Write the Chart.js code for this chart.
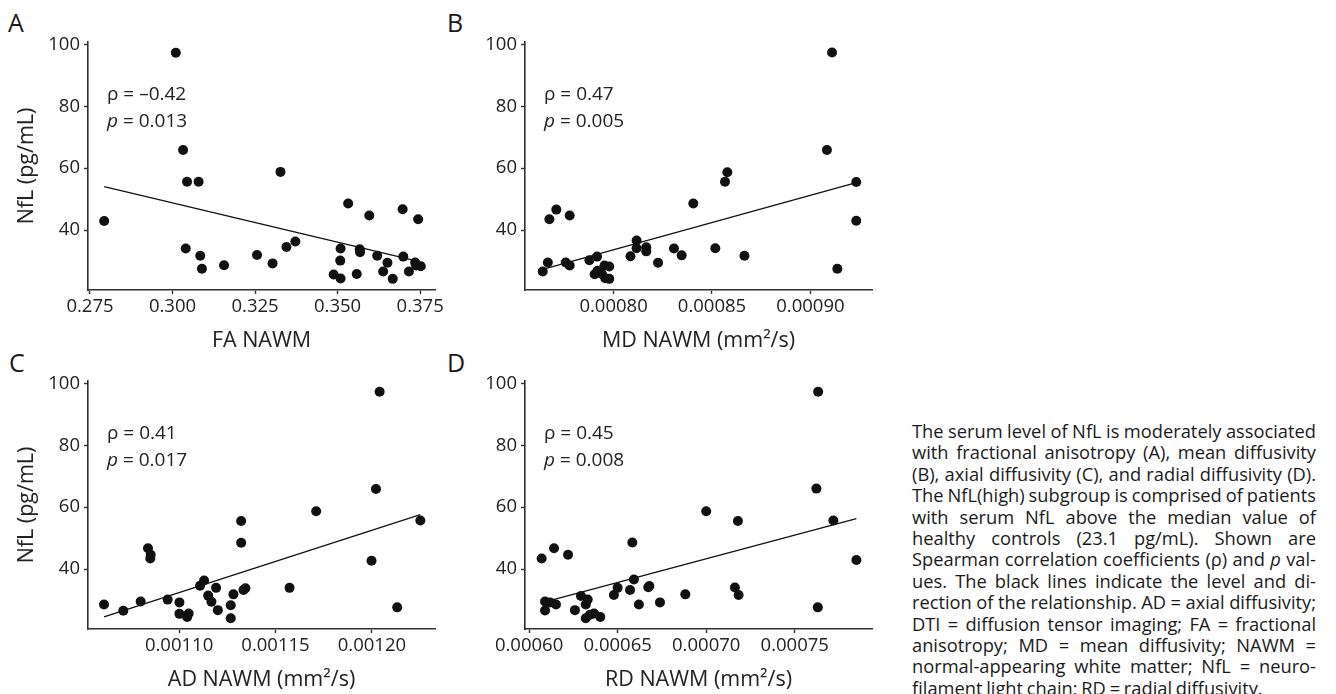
<!DOCTYPE html>
<html>
<head>
<meta charset="utf-8">
<script src="https://cdn.jsdelivr.net/npm/chart.js@4.4.1/dist/chart.umd.min.js"></script>
<style>
  html, body { margin: 0; padding: 0; background: #fff; width: 1336px; height: 694px; overflow: hidden; }
  body { position: relative; font-family: "Open Sans", sans-serif; color: #222; }
  canvas { position: absolute; }
  .letter { position: absolute; font-size: 25px; line-height: 25px; color: #1a1a1a; }
  #caption { position: absolute; left: 912px; top: 420px; width: 404px; font-size: 18.3px; line-height: 21.4px; word-spacing: -1px; color: #1a1a1a; }
  #caption div { text-align: justify; text-align-last: justify; white-space: nowrap; }
  #caption div.last { text-align-last: left; }
</style>
</head>
<body>
<div class="letter" style="left:8px;top:10px">A</div>
<div class="letter" style="left:447px;top:10px">B</div>
<div class="letter" style="left:9px;top:350px">C</div>
<div class="letter" style="left:447px;top:350px">D</div>

<canvas id="cA" width="450" height="356" style="left:0px;top:0px"></canvas>
<canvas id="cB" width="450" height="356" style="left:437px;top:0px"></canvas>
<canvas id="cC" width="450" height="356" style="left:0px;top:339px"></canvas>
<canvas id="cD" width="450" height="356" style="left:437px;top:339px"></canvas>

<div id="caption">
<div>The serum level of NfL is moderately associated</div>
<div>with fractional anisotropy (A), mean diffusivity</div>
<div>(B), axial diffusivity (C), and radial diffusivity (D).</div>
<div>The NfL(high) subgroup is comprised of patients</div>
<div>with serum NfL above the median value of</div>
<div>healthy controls (23.1 pg/mL). Shown are</div>
<div>Spearman correlation coefficients (ρ) and <i>p</i> val-</div>
<div>ues. The black lines indicate the level and di-</div>
<div>rection of the relationship. AD = axial diffusivity;</div>
<div>DTI = diffusion tensor imaging; FA = fractional</div>
<div>anisotropy; MD = mean diffusivity; NAWM =</div>
<div>normal-appearing white matter; NfL = neuro-</div>
<div class="last">filament light chain; RD = radial diffusivity.</div>
</div>

<script>
// ---------------- DATA ----------------
const nflTicks = [40, 60, 80, 100];

const faNawm = [0.2793,0.3010,0.3032,0.3044,0.3079,0.3040,0.3084,0.3089,0.3156,0.3256,0.3303,0.3327,0.3345,0.3372,0.3488,0.3509,0.3508,0.3509,0.3532,0.3558,0.3567,0.3568,0.3596,0.3620,0.3638,0.3651,0.3667,0.3697,0.3699,0.3716,0.3735,0.3744,0.3738,0.3752];
const nflA   = [42.9,97.3,65.9,55.6,55.6,34.0,31.7,27.5,28.6,31.9,29.2,58.8,34.5,36.3,25.6,24.3,30.1,34.0,48.6,25.8,33.8,32.8,44.7,31.7,26.6,29.4,24.2,46.7,31.4,26.6,29.5,43.5,28.5,28.3];
const fitA   = [[0.2793, 54.0], [0.3735, 30.1]];
const ticksA = [0.275, 0.300, 0.325, 0.350, 0.375];

const mdNawm = [0.0007640,0.0007666,0.0007674,0.0007709,0.0007757,0.0007777,0.0007777,0.0007877,0.0007916,0.0007904,0.0007919,0.0007941,0.0007954,0.0007978,0.0007958,0.0007978,0.0008086,0.0008117,0.0008117,0.0008166,0.0008166,0.0008226,0.0008307,0.0008346,0.0008405,0.0008517,0.0008566,0.0008578,0.0008665,0.0009084,0.0009110,0.0009137,0.0009233,0.0009233];
const nflB   = [26.6,29.5,43.5,46.6,29.5,28.5,44.7,30.2,31.4,25.7,26.8,25.8,28.5,28.2,24.4,24.2,31.5,36.6,34.1,34.4,33.1,29.4,34.0,31.8,48.6,34.1,55.6,58.7,31.7,65.9,97.4,27.5,55.5,43.0];
const fitB   = [[0.0007640, 27.3], [0.0009233, 55.3]];
const ticksB = [0.00080, 0.00085, 0.00090];

const adNawm = [0.0010611,0.0010711,0.0010801,0.0010839,0.0010853,0.0010851,0.0010941,0.0011002,0.0011002,0.0011042,0.0011050,0.0011109,0.0011130,0.0011151,0.0011168,0.0011192,0.0011201,0.0011268,0.0011268,0.0011282,0.0011322,0.0011322,0.0011334,0.0011344,0.0011573,0.0011711,0.0011998,0.0012021,0.0012040,0.0012131,0.0012251];
const nflC   = [28.5,26.5,29.5,46.7,44.6,43.4,30.1,29.2,25.5,24.5,25.6,34.6,36.3,31.4,29.4,33.9,26.7,28.3,24.1,31.8,55.5,48.5,33.2,33.8,33.9,58.7,42.7,65.9,97.3,27.6,55.7];
const fitC   = [[0.0010611, 24.5], [0.0012251, 57.6]];
const ticksC = [0.00110, 0.00115, 0.00120];

const rdNawm = [0.0006071,0.0006090,0.0006090,0.0006118,0.0006141,0.0006152,0.0006220,0.0006259,0.0006293,0.0006320,0.0006331,0.0006320,0.0006344,0.0006367,0.0006402,0.0006479,0.0006500,0.0006570,0.0006583,0.0006592,0.0006620,0.0006673,0.0006679,0.0006739,0.0006882,0.0007000,0.0007162,0.0007179,0.0007183,0.0007622,0.0007632,0.0007630,0.0007718,0.0007848];
const nflD   = [43.4,26.6,29.5,29.2,46.7,28.5,44.6,26.7,31.3,28.5,30.1,24.1,25.2,25.6,24.5,31.6,33.9,33.2,48.6,36.6,28.5,34.1,34.5,29.2,31.8,58.7,34.0,55.5,31.6,66.0,97.3,27.6,55.7,42.9];
const fitD   = [[0.0006090, 29.4], [0.0007848, 56.3]];
const ticksD = [0.00060, 0.00065, 0.00070, 0.00075];

const rhoLabels = ['ρ = –0.42', 'ρ = 0.47', 'ρ = 0.41', 'ρ = 0.45'];
const pLabels   = ['0.013', '0.005', '0.017', '0.008'];
const xTitles   = ['FA NAWM', 'MD NAWM (mm²/s)', 'AD NAWM (mm²/s)', 'RD NAWM (mm²/s)'];
const yTitle    = 'NfL (pg/mL)';

// ---------------- CHARTS ----------------
const AXIS = '#303030';
const TXT = '#222222';
const FONT = '"Open Sans", sans-serif';

const statsPlugin = {
  id: 'stats',
  afterDraw(chart, args, opts) {
    const ctx = chart.ctx;
    const x0 = chart.chartArea.left + 19;
    ctx.save();
    ctx.fillStyle = TXT;
    ctx.textBaseline = 'middle';
    ctx.textAlign = 'left';
    ctx.font = '19px ' + FONT;
    ctx.fillText(opts.rho, x0, 95);
    ctx.font = 'italic 19px ' + FONT;
    ctx.fillText('p', x0, 122);
    const w = ctx.measureText('p').width;
    ctx.font = '19px ' + FONT;
    ctx.fillText(' = ' + opts.p, x0 + w, 122);
    ctx.restore();
  }
};

function makeChart(id, xs, ys, fit, xTicks, xMin, xMax, decimals, idx, showY) {
  const pts = xs.map((x, i) => ({x: x, y: ys[i]}));
  new Chart(document.getElementById(id), {
    type: 'scatter',
    data: {
      datasets: [
        { data: pts, backgroundColor: '#111', borderColor: '#111', pointRadius: 5, pointHoverRadius: 5, borderWidth: 0, order: 1 },
        { type: 'line', data: fit.map(p => ({x: p[0], y: p[1]})), borderColor: '#111', borderWidth: 1.3, pointRadius: 0, fill: false, order: 2 }
      ]
    },
    options: {
      responsive: false,
      animation: false,
      devicePixelRatio: 1,
      layout: { padding: { left: 0, top: 42, right: 15, bottom: 0 } },
      plugins: { legend: { display: false }, tooltip: { enabled: false }, stats: { rho: rhoLabels[idx], p: pLabels[idx] } },
      scales: {
        x: {
          type: 'linear', min: xMin, max: xMax,
          afterBuildTicks: s => { s.ticks = xTicks.map(v => ({value: v})); },
          afterFit: s => { s.height = 66; s.paddingLeft = 0; s.paddingRight = 0; },
          ticks: { callback: v => v.toFixed(decimals), font: { family: FONT, size: 18.5 }, color: TXT, padding: 2, maxRotation: 0, autoSkip: false },
          grid: { display: true, drawOnChartArea: false, drawTicks: true, tickLength: 4, color: AXIS, tickWidth: 1.4 },
          border: { display: true, color: AXIS, width: 1.6 },
          title: { display: true, text: xTitles[idx], font: { family: FONT, size: 21.5 }, color: TXT, padding: { top: 0, bottom: 2 } }
        },
        y: {
          type: 'linear', min: 20.6, max: 100.8,
          afterBuildTicks: s => { s.ticks = nflTicks.map(v => ({value: v})); },
          afterFit: s => { s.width = 88; s.paddingTop = 0; s.paddingBottom = 0; },
          ticks: { font: { family: FONT, size: 18.5 }, color: TXT, padding: 4 },
          grid: { display: true, drawOnChartArea: false, drawTicks: true, tickLength: 4, color: AXIS, tickWidth: 1.4 },
          border: { display: true, color: AXIS, width: 1.6 },
          title: { display: showY, text: yTitle, font: { family: FONT, size: 21.5 }, color: TXT, padding: { top: 14, bottom: 0 } }
        }
      }
    },
    plugins: [statsPlugin]
  });
}

makeChart('cA', faNawm, nflA, fitA, ticksA, 0.2744, 0.3795, 3, 0, true);
makeChart('cB', mdNawm, nflB, fitB, ticksB, 0.000755, 0.0009313, 5, 1, false);
makeChart('cC', adNawm, nflC, fitC, ticksC, 0.0010528, 0.0012327, 5, 2, true);
makeChart('cD', rdNawm, nflD, fitD, ticksD, 0.0005977, 0.0007936, 5, 3, false);
</script>
</body>
</html>
